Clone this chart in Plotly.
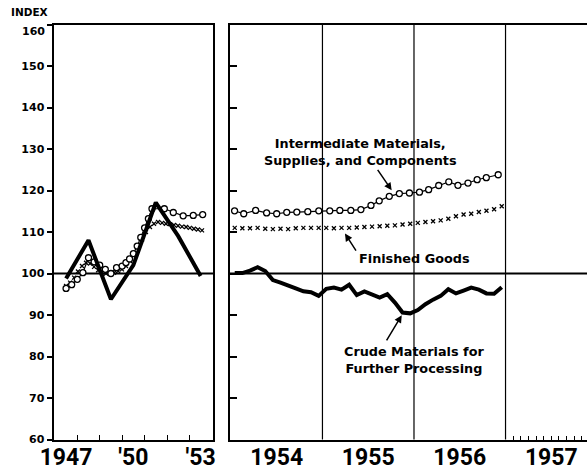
import plotly.graph_objects as go

# ---------------- data ----------------
# Left panel (annual / sub-annual, decimal years)
crude_left_x = [1947, 1948, 1949, 1950, 1951, 1952, 1953]
crude_left_y = [98.8, 108.0, 93.8, 102.0, 117.1, 109.0, 99.4]

inter_left_x = [1947.00, 1947.25, 1947.50, 1947.75, 1948.00, 1948.25, 1948.50, 1948.75,
                1949.00, 1949.25, 1949.50, 1949.67, 1949.83, 1950.00, 1950.17, 1950.33,
                1950.50, 1950.67, 1950.83, 1951.38, 1951.78, 1952.22, 1952.67, 1953.09]
inter_left_y = [96.4, 97.3, 98.6, 100.2, 103.8, 102.8, 102.0, 101.0,
                100.0, 101.4, 101.8, 102.6, 103.5, 104.8, 106.6, 108.7,
                111.0, 113.2, 115.6, 115.6, 114.7, 113.9, 114.0, 114.2]

fin_left_x = [1947.00, 1947.18, 1947.36, 1947.53, 1947.71, 1947.89, 1948.07, 1948.25,
              1948.43, 1948.60, 1948.78, 1948.96, 1949.14, 1949.32, 1949.49, 1949.67,
              1949.85, 1950.03, 1950.21, 1950.39, 1950.56, 1950.74, 1950.92, 1951.10,
              1951.28, 1951.45, 1951.63, 1951.81, 1951.99, 1952.17, 1952.35, 1952.52,
              1952.70, 1952.88, 1953.06]
fin_left_y = [97.0, 97.8, 99.0, 100.5, 101.8, 102.6, 102.4, 101.6,
              100.8, 100.3, 100.0, 99.9, 100.2, 100.6, 101.0, 101.8,
              103.0, 104.6, 106.4, 108.2, 110.0, 111.2, 112.0, 112.4,
              112.2, 112.0, 111.9, 111.7, 111.5, 111.3, 111.2, 111.0,
              110.8, 110.6, 110.4]

# Right panel (monthly 1954-1956)
months = ["1954-01", "1954-02", "1954-03", "1954-04", "1954-05", "1954-06",
          "1954-07", "1954-08", "1954-09", "1954-10", "1954-11", "1954-12",
          "1955-01", "1955-02", "1955-03", "1955-04", "1955-05", "1955-06",
          "1955-07", "1955-08", "1955-09", "1955-10", "1955-11", "1955-12",
          "1956-01", "1956-02", "1956-03", "1956-04", "1956-05", "1956-06",
          "1956-07", "1956-08", "1956-09", "1956-10", "1956-11", "1956-12"]
crude_right_y = [100.1, 100.1, 100.7, 101.5, 100.6, 98.4, 97.8, 97.2, 96.4, 95.7, 95.5, 94.6,
                 96.3, 96.6, 96.1, 97.3, 94.8, 95.7, 95.0, 94.2, 95.0, 93.0, 90.6, 90.4,
                 91.2, 92.6, 93.7, 94.6, 96.2, 95.2, 95.9, 96.6, 96.1, 95.2, 95.1, 96.7]
fin_right_y = [111.0, 110.9, 110.9, 111.0, 110.8, 110.7, 110.8, 110.7, 110.9, 111.0, 111.0, 111.0,
               111.0, 110.9, 111.0, 111.0, 111.1, 111.2, 111.3, 111.4, 111.5, 111.6, 111.8, 112.0,
               112.2, 112.4, 112.6, 112.8, 113.2, 113.8, 114.2, 114.4, 114.8, 115.1, 115.5, 116.2]

inter_right_x = [1954.04, 1954.14, 1954.27, 1954.39, 1954.50, 1954.61, 1954.72, 1954.84, 1954.96,
                 1955.08, 1955.19, 1955.31, 1955.42, 1955.53, 1955.62, 1955.73, 1955.84, 1955.95,
                 1956.06, 1956.16, 1956.27, 1956.38, 1956.48, 1956.59, 1956.69, 1956.79, 1956.92]
inter_right_y = [115.1, 114.4, 115.2, 114.6, 114.4, 114.75, 114.8, 114.9, 115.1,
                 115.1, 115.2, 115.2, 115.4, 116.4, 117.5, 118.6, 119.25, 119.4,
                 119.6, 120.2, 121.2, 122.1, 121.25, 121.8, 122.6, 123.1, 123.8]

left_ticks = [1947, 1950, 1953]
left_labels = ["1947", "'50", "'53"]
right_ticks = [1954.5, 1955.5, 1956.5, 1957.5]
right_labels = ["1954", "1955", "1956", "1957"]
y_ticks = [60, 70, 80, 90, 100, 110, 120, 130, 140, 150, 160]
y_labels = ["60", "70", "80", "90", "100", "110", "120", "130", "140", "150", ""]
top_label = "160"


def month_to_dec(m):
    yr, mo = m.split("-")
    return int(yr) + (int(mo) - 0.5) / 12


month_x = [month_to_dec(m) for m in months]

# ---------------- figure ----------------
W, H = 587, 474
BLACK = "black"


def px_x(p):
    return p / W


def px_y(p):
    return (H - p) / H


fig = go.Figure()

x_marker = dict(symbol="x-thin", size=4, line=dict(width=1.3, color=BLACK))
o_marker = dict(symbol="circle", size=6, color="white", line=dict(width=1.3, color=BLACK))

# left panel traces
fig.add_trace(go.Scatter(x=fin_left_x, y=fin_left_y, mode="markers", xaxis="x", yaxis="y",
                         marker=x_marker, showlegend=False, hoverinfo="skip"))
fig.add_trace(go.Scatter(x=inter_left_x, y=inter_left_y, mode="lines+markers", xaxis="x", yaxis="y",
                         line=dict(color=BLACK, width=1.2), marker=o_marker,
                         showlegend=False, hoverinfo="skip"))
fig.add_trace(go.Scatter(x=crude_left_x, y=crude_left_y, mode="lines", xaxis="x", yaxis="y",
                         line=dict(color=BLACK, width=4), showlegend=False, hoverinfo="skip"))

# right panel traces
fig.add_trace(go.Scatter(x=month_x, y=fin_right_y, mode="markers", xaxis="x2", yaxis="y2",
                         marker=x_marker, showlegend=False, hoverinfo="skip"))
fig.add_trace(go.Scatter(x=inter_right_x, y=inter_right_y, mode="lines+markers", xaxis="x2", yaxis="y2",
                         line=dict(color=BLACK, width=1.2), marker=o_marker,
                         showlegend=False, hoverinfo="skip"))
fig.add_trace(go.Scatter(x=month_x, y=crude_right_y, mode="lines", xaxis="x2", yaxis="y2",
                         line=dict(color=BLACK, width=4), showlegend=False, hoverinfo="skip"))

ydom = [px_y(439.5), px_y(24.5)]
tickfont_y = dict(family="DejaVu Sans", size=11, color=BLACK, weight="bold")
tickfont_x = dict(family="Liberation Sans Narrow, Roboto, DejaVu Sans", size=23,
                  color=BLACK, weight="bold")

fig.update_layout(
    width=W, height=H,
    margin=dict(l=0, r=0, t=0, b=0, autoexpand=False),
    paper_bgcolor="white", plot_bgcolor="white",
    xaxis=dict(domain=[px_x(53.5), px_x(213)], range=[1946.44, 1953.55], anchor="y",
               automargin=False, ticklabelstandoff=-4,
               tickmode="array", tickvals=left_ticks, ticktext=left_labels, ticks="",
               tickfont=tickfont_x, showgrid=False, zeroline=False,
               showline=True, linewidth=2, linecolor=BLACK, mirror=True,
               minor=dict(tickmode="array", tickvals=[1947.5, 1948.5, 1949.5, 1950.5, 1951.5, 1952.5],
                          ticks="inside", ticklen=5, tickwidth=1.2, tickcolor=BLACK, showgrid=False)),
    yaxis=dict(domain=ydom, range=[60, 160], anchor="x", tickmode="array", tickvals=y_ticks,
               ticktext=y_labels, automargin=False,
               ticks="outside", ticklen=5, tickwidth=1.5, tickcolor=BLACK,
               tickfont=tickfont_y, showgrid=False, zeroline=False,
               showline=True, linewidth=2, linecolor=BLACK, mirror=True),
    yaxis3=dict(domain=ydom, range=[60, 160], anchor="x", overlaying="y", side="right",
                automargin=False,
                tickmode="array", tickvals=y_ticks, ticks="inside", ticklen=6, tickwidth=1.5,
                tickcolor=BLACK, showticklabels=False, showgrid=False, zeroline=False, showline=False),
    xaxis2=dict(domain=[px_x(230), 1.0], range=[1953.99, 1957.89], anchor="y2",
                automargin=False, ticklabelstandoff=-4,
                tickmode="array", tickvals=right_ticks, ticktext=right_labels, ticks="",
                tickfont=tickfont_x, showgrid=False, zeroline=False,
                showline=True, linewidth=2, linecolor=BLACK, mirror=True,
                minor=dict(tickmode="array",
                           tickvals=[1957 + k / 12 for k in range(1, 12)],
                           ticks="inside", ticklen=4, tickwidth=1, tickcolor=BLACK, showgrid=False)),
    yaxis2=dict(domain=ydom, range=[60, 160], anchor="x2", tickmode="array", tickvals=y_ticks,
                automargin=False,
                ticks="inside", ticklen=7, tickwidth=1.5, tickcolor=BLACK, showticklabels=False,
                showgrid=False, zeroline=False, showline=True, linewidth=2, linecolor=BLACK, mirror=False),
)

# reference lines at 100 and year dividers
fig.add_shape(type="line", xref="x domain", yref="y", x0=0, x1=1, y0=100, y1=100,
              line=dict(color=BLACK, width=2), layer="below")
fig.add_shape(type="line", xref="x2 domain", yref="y2", x0=0, x1=1, y0=100, y1=100,
              line=dict(color=BLACK, width=2), layer="below")
for yr in [1955, 1956, 1957]:
    fig.add_shape(type="line", xref="x2", yref="y2 domain", x0=yr, x1=yr, y0=0, y1=1,
                  line=dict(color=BLACK, width=1.2), layer="below")

# labels and arrows
lab_font = dict(family="DejaVu Sans", size=12.8, color=BLACK, weight="bold")
fig.add_annotation(x=1955.42, y=129.3, xref="x2", yref="y2", showarrow=False,
                   text="Intermediate Materials,<br>Supplies, and Components", font=lab_font, align="center")
fig.add_annotation(x=1956.01, y=103.7, xref="x2", yref="y2", showarrow=False,
                   text="Finished Goods", font=lab_font)
fig.add_annotation(x=1956.0, y=79.1, xref="x2", yref="y2", showarrow=False,
                   text="Crude Materials for<br>Further Processing", font=lab_font, align="center")

arrows = [((1955.756, 120.05), (1955.592, 125.34)),
          ((1955.246, 109.63), (1955.377, 105.13)),
          ((1955.866, 89.96), (1955.691, 83.54))]
for (hx, hy), (tx, ty) in arrows:
    fig.add_annotation(x=hx, y=hy, ax=tx, ay=ty, xref="x2", yref="y2", axref="x2", ayref="y2",
                       text="", showarrow=True, arrowhead=2, arrowsize=1, arrowwidth=1.5,
                       arrowcolor=BLACK, standoff=0, startstandoff=0)

fig.add_annotation(x=px_x(9), y=px_y(12.5), xref="paper", yref="paper", xanchor="left",
                   yanchor="middle", showarrow=False, text="INDEX",
                   font=dict(family="DejaVu Sans", size=10.5, color=BLACK, weight="bold"))
fig.add_annotation(x=px_x(47.5), y=px_y(32), xref="paper", yref="paper", xanchor="right",
                   yanchor="middle", showarrow=False, text=top_label, font=tickfont_y)

fig.write_html("out.html", config={"displayModeBar": False},
               post_script="document.body.style.margin='0px';")
